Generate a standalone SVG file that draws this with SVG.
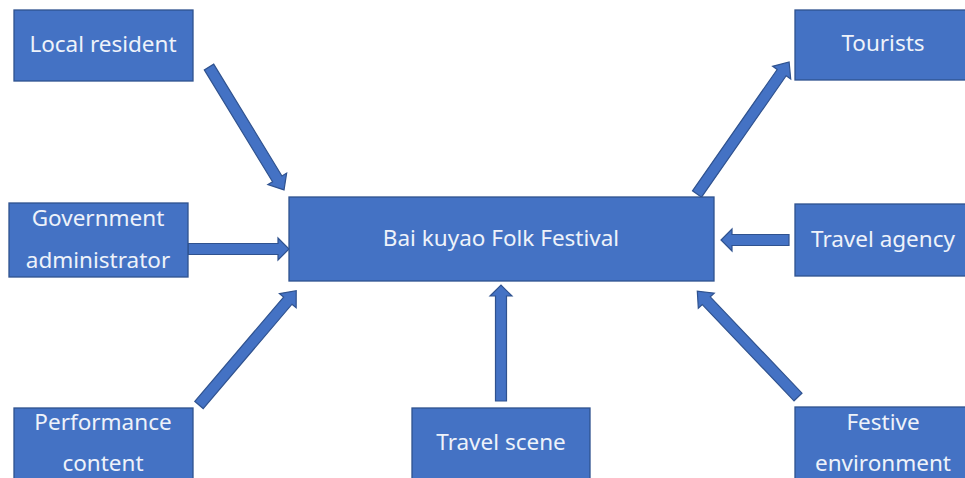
<svg xmlns="http://www.w3.org/2000/svg" width="965" height="478" viewBox="0 0 965 478">
<style>
.box{fill:#4472C4;stroke:#2F528F;stroke-width:1.3}
.arr{fill:#4472C4;stroke:#2F528F;stroke-width:1.2;stroke-linejoin:miter}
text{font-family:"Noto Sans","Open Sans",sans-serif;font-size:22.5px;fill:#EEF2FA;text-anchor:middle;dominant-baseline:central}
</style>
<rect width="965" height="478" fill="#FFFFFF"/>
<g id="connectors">
<polygon class="arr" transform="translate(209,67) rotate(58.6)" points="0,-5.5 131,-5.5 131,-11 144,0 131,11 131,5.5 0,5.5"/>
<polygon class="arr" transform="translate(188,249)" points="0,-5.5 90,-5.5 90,-11 101,0 90,11 90,5.5 0,5.5"/>
<polygon class="arr" transform="translate(697,194) rotate(-55.1)" points="0,-5.5 148,-5.5 148,-11 161,0 148,11 148,5.5 0,5.5"/>
<polygon class="arr" transform="translate(789,240) rotate(180)" points="0,-5.5 57,-5.5 57,-11 68,0 57,11 57,5.5 0,5.5"/>
<polygon class="arr" transform="translate(501,401) rotate(-90)" points="0,-5.5 105,-5.5 105,-11 116,0 105,11 105,5.5 0,5.5"/>
<polygon class="arr" transform="translate(798,397) rotate(-133.6)" points="0,-5.5 133,-5.5 133,-11 146,0 133,11 133,5.5 0,5.5"/>
<polygon class="arr" transform="translate(199,405) rotate(-49.6)" points="0,-5.5 137,-5.5 137,-11 150,0 137,11 137,5.5 0,5.5"/>
</g>
<g id="center">
<rect class="box" x="289" y="197" width="425" height="84"/>
<text x="501" y="237">Bai kuyao Folk Festival</text>
</g>
<g id="local-resident">
<rect class="box" x="14" y="10" width="179" height="71"/>
<text x="103" y="43">Local resident</text>
</g>
<g id="government-administrator">
<rect class="box" x="9" y="203" width="179" height="74"/>
<text x="98" y="217">Government</text>
<text x="98" y="259">administrator</text>
</g>
<g id="performance-content">
<rect class="box" x="14" y="408" width="179" height="74"/>
<text x="103" y="421">Performance</text>
<text x="103" y="462">content</text>
</g>
<g id="travel-scene">
<rect class="box" x="412" y="408" width="178" height="74"/>
<text x="501" y="441">Travel scene</text>
</g>
<g id="tourists">
<rect class="box" x="795" y="10" width="175" height="70"/>
<text x="883" y="42">Tourists</text>
</g>
<g id="travel-agency">
<rect class="box" x="795" y="204" width="175" height="72"/>
<text x="883" y="238">Travel agency</text>
</g>
<g id="festive-environment">
<rect class="box" x="795" y="407" width="175" height="75"/>
<text x="883" y="421">Festive</text>
<text x="883" y="462">environment</text>
</g>
</svg>
